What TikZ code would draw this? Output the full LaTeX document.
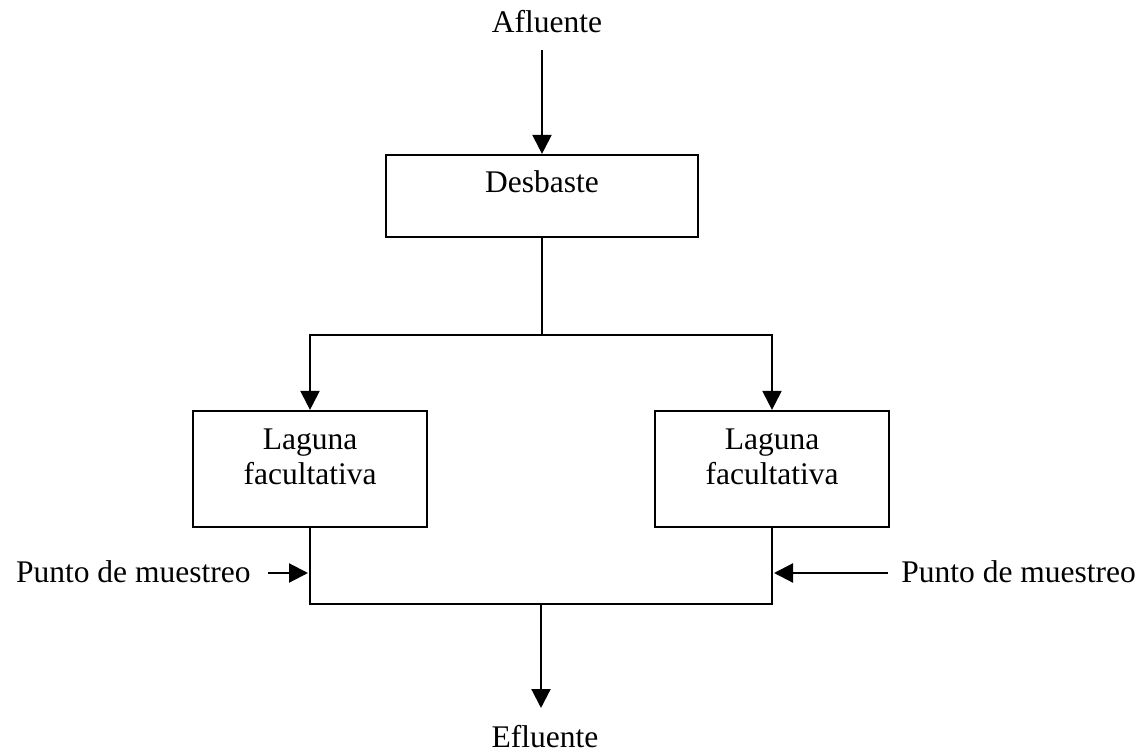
\documentclass[tikz,border=0pt]{standalone}
\usepackage{fontspec}
\setmainfont{Liberation Serif}
\usetikzlibrary{arrows.meta}
\begin{document}
\begin{tikzpicture}[x=1pt,y=-1pt,
  line width=2.2pt,
  box/.style={draw, rectangle, inner sep=0pt, line width=2.2pt},
  lbl/.style={font=\fontsize{31.5}{35}\selectfont, inner sep=0pt},
  flow/.style={-{Triangle[length=19pt,width=19pt]}}]
\useasboundingbox (0,0) rectangle (1144,754);

% process boxes
\node[box, minimum width=312pt, minimum height=82pt] (des) at (542,196) {};
\node[box, minimum width=234pt, minimum height=116pt] (lagL) at (310,469) {};
\node[box, minimum width=234pt, minimum height=116pt] (lagR) at (772,469) {};

% box texts
\node[lbl, anchor=base] (desT) at (542,193) {Desbaste};
\node[lbl, align=center] (lagLT) at (310,457) {Laguna\\facultativa};
\node[lbl, align=center] (lagRT) at (772,457) {Laguna\\facultativa};

% inlet / outlet labels
\node[lbl, anchor=base] (afl) at (547,33) {Afluente};
\node[lbl, anchor=base] (efl) at (545,747) {Efluente};
\node[lbl, anchor=base west] (pmL) at (15,582) {Punto de muestreo};
\node[lbl, anchor=base east] (pmR) at (1137,582) {Punto de muestreo};

% junction points
\coordinate (inlet) at (542,50);
\coordinate (split) at (542,335);
\coordinate (join) at (541,604);
\coordinate (outlet) at (541,708);
\coordinate (pmLs) at (268,573);
\coordinate (pmLe) at (308,573);
\coordinate (pmRs) at (888,573);
\coordinate (pmRe) at (774,573);

% flow lines
\draw[flow] (inlet) -- (des.north);
\draw (des.south) -- (split);
\draw[flow] (split) -| (lagL.north);
\draw[flow] (split) -| (lagR.north);
\draw (lagL.south) |- (join) -| (lagR.south);
\draw[flow] (join) -- (outlet);

% sampling points
\draw[flow] (pmLs) -- (pmLe);
\draw[flow] (pmRs) -- (pmRe);
\end{tikzpicture}
\end{document}
